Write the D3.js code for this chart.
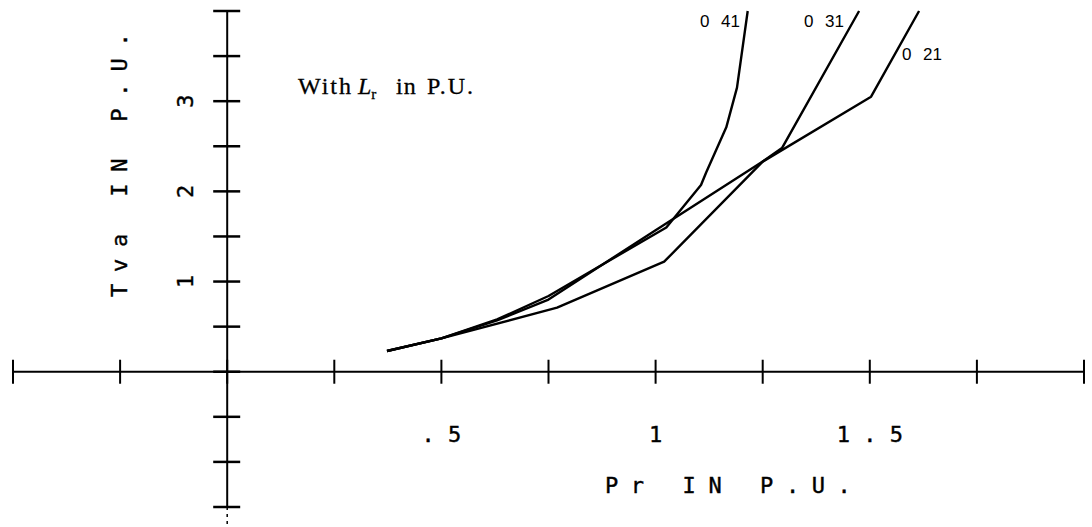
<!DOCTYPE html>
<html>
<head>
<meta charset="utf-8">
<script src="https://cdn.jsdelivr.net/npm/d3@7"></script>
<style>
  body { margin: 0; background: #fff; }
  svg { display: block; }
</style>
</head>
<body>
<div id="container"></div>
<script>
// curve values (Pr, Tva) for each Lr
var series_names = ["0 41", "0 31", "0 21"];
var pr_041 = [0.373, 0.50, 0.63, 0.75, 1.025, 1.106, 1.118, 1.165, 1.19, 1.215];
var tva_041 = [0.23, 0.37, 0.58, 0.84, 1.60, 2.07, 2.21, 2.71, 3.15, 4.00];
var pr_031 = [0.373, 0.50, 0.77, 1.02, 1.25, 1.295, 1.475];
var tva_031 = [0.23, 0.37, 0.71, 1.22, 2.33, 2.48, 4.00];
var pr_021 = [0.373, 0.50, 0.63, 0.75, 1.00, 1.25, 1.503, 1.615];
var tva_021 = [0.23, 0.37, 0.57, 0.80, 1.57, 2.33, 3.05, 4.00];

var x_ticks = d3.range(-0.5, 2.001, 0.25);
var y_ticks = d3.range(-1.5, 4.001, 0.5);
var x_labels = [[0.5, ". 5"], [1, "1"], [1.5, "1 . 5"]];
var y_labels = [[1, "1"], [2, "2"], [3, "3"]];

var svg_width = 1092,
    svg_height = 527;

var x = d3.scaleLinear().domain([-0.5, 2]).range([13, 1084]);
var y = d3.scaleLinear().domain([-1.5, 4]).range([507, 11]);

var svg = d3.select("#container")
  .append("svg")
  .attr("width", svg_width)
  .attr("height", svg_height);

var plotter = "'DejaVu Sans Mono', 'Liberation Mono', monospace";

// axes through the origin
svg.append("line")
  .attr("x1", x(-0.5)).attr("x2", x(2))
  .attr("y1", y(0)).attr("y2", y(0))
  .attr("stroke", "#000").attr("stroke-width", 2);
svg.append("line")
  .attr("x1", x(0)).attr("x2", x(0))
  .attr("y1", y(4)).attr("y2", y(-1.5))
  .attr("stroke", "#000").attr("stroke-width", 2);
// faint broken tail below the last tick
svg.append("line")
  .attr("x1", x(0)).attr("x2", x(0))
  .attr("y1", y(-1.5)).attr("y2", svg_height)
  .attr("stroke", "#000").attr("stroke-width", 1.5)
  .attr("stroke-dasharray", "3,4");

svg.selectAll(".xtick")
  .data(x_ticks)
  .enter().append("line")
  .attr("class", "xtick")
  .attr("x1", function(d) { return x(d); })
  .attr("x2", function(d) { return x(d); })
  .attr("y1", y(0) - 12)
  .attr("y2", y(0) + 12)
  .attr("stroke", "#000").attr("stroke-width", 2);

svg.selectAll(".ytick")
  .data(y_ticks)
  .enter().append("line")
  .attr("class", "ytick")
  .attr("x1", x(0) - 14)
  .attr("x2", x(0) + 13)
  .attr("y1", function(d) { return y(d); })
  .attr("y2", function(d) { return y(d); })
  .attr("stroke", "#000").attr("stroke-width", 2.5);

// tick labels
svg.selectAll(".xlab")
  .data(x_labels)
  .enter().append("text")
  .attr("x", function(d) { return x(d[0]); })
  .attr("y", y(0) + 70)
  .attr("text-anchor", "middle")
  .style("font-family", plotter)
  .style("font-size", "22px")
  .style("stroke", "#000").style("stroke-width", 0.4)
  .text(function(d) { return d[1]; });

svg.selectAll(".ylab")
  .data(y_labels)
  .enter().append("text")
  .attr("transform", function(d) { return "translate(185," + y(d[0]) + ") rotate(-90)"; })
  .attr("text-anchor", "middle")
  .attr("dominant-baseline", "central")
  .style("font-family", plotter)
  .style("font-size", "22px")
  .style("stroke", "#000").style("stroke-width", 0.4)
  .text(function(d) { return d[1]; });

// axis titles
svg.append("text")
  .attr("x", 605)
  .attr("y", 493)
  .style("font-family", plotter)
  .style("font-size", "22px")
  .style("letter-spacing", "12.6px")
  .style("stroke", "#000").style("stroke-width", 0.4)
  .text("Pr IN P.U.");

svg.append("text")
  .attr("transform", "translate(119,297) rotate(-90)")
  .attr("dominant-baseline", "central")
  .style("font-family", plotter)
  .style("font-size", "22px")
  .style("letter-spacing", "11.8px")
  .style("stroke", "#000").style("stroke-width", 0.4)
  .text("Tva IN P.U.");

// annotation
var note = svg.append("text")
  .attr("y", 94)
  .style("font-family", "'Liberation Serif', 'DejaVu Serif', serif")
  .style("font-size", "24px")
  .style("stroke", "#000").style("stroke-width", 0.3);
note.append("tspan").attr("x", 298).style("letter-spacing", "2px").text("With");
note.append("tspan").attr("x", 358).style("font-style", "italic").text("L");
note.append("tspan").attr("dy", 5).style("font-size", "15px").text("r");
note.append("tspan").attr("x", 396).attr("dy", -5).style("letter-spacing", "1px").text("in");
note.append("tspan").attr("x", 427).style("letter-spacing", "2px").text("P.U.");

// curves
var curves = [
  { name: series_names[0], pr: pr_041, tva: tva_041 },
  { name: series_names[1], pr: pr_031, tva: tva_031 },
  { name: series_names[2], pr: pr_021, tva: tva_021 }
];

var line = d3.line()
  .x(function(d) { return x(d[0]); })
  .y(function(d) { return y(d[1]); });

svg.selectAll(".curve")
  .data(curves)
  .enter().append("path")
  .attr("class", "curve")
  .attr("d", function(c) { return line(d3.zip(c.pr, c.tva)); })
  .attr("fill", "none")
  .attr("stroke", "#000")
  .attr("stroke-width", 2.4)
  .attr("stroke-linejoin", "round");

// curve labels: "0" then the digits a little apart
var label_pos = [[700, 27], [804, 27], [902, 60]];
var clab = svg.selectAll(".clab")
  .data(curves)
  .enter().append("text")
  .attr("class", "clab")
  .attr("y", function(c, i) { return label_pos[i][1]; })
  .style("font-family", "'Liberation Sans', Arial, sans-serif")
  .style("font-size", "17px");
clab.append("tspan")
  .attr("x", function(c, i) { return label_pos[i][0]; })
  .text(function(c) { return c.name.split(" ")[0]; });
clab.append("tspan")
  .attr("x", function(c, i) { return label_pos[i][0] + 21; })
  .text(function(c) { return c.name.split(" ")[1]; });
</script>
</body>
</html>
